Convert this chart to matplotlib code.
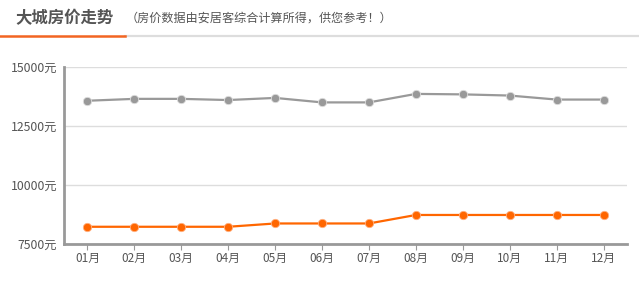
import matplotlib
matplotlib.use("Agg")
import matplotlib.pyplot as plt
from matplotlib.lines import Line2D

plt.rcParams['font.family'] = ['Noto Sans CJK SC', 'DejaVu Sans']

months = ["01月", "02月", "03月", "04月", "05月", "06月", "07月", "08月", "09月", "10月", "11月", "12月"]
gray_series = [13570, 13650, 13650, 13600, 13690, 13500, 13500, 13860, 13840, 13790, 13620, 13620]
orange_series = [8230, 8230, 8230, 8230, 8370, 8370, 8370, 8730, 8730, 8730, 8730, 8730]
yticks = [7500, 10000, 12500, 15000]
ytick_labels = ["7500元", "10000元", "12500元", "15000元"]
title = "大城房价走势"
subtitle = "（房价数据由安居客综合计算所得，供您参考！）"

W, H = 639, 281
fig = plt.figure(figsize=(W / 100, H / 100), dpi=100)
fig.patch.set_facecolor("white")

# Header
fig.text(15 / W, 1 - 18 / H, title, fontsize=11.8, color="#555555", fontweight="bold",
         ha="left", va="center")
fig.text(126 / W, 1 - 18.5 / H, subtitle, fontsize=8.7, color="#555555", ha="left", va="center")
fig.add_artist(Line2D([125 / W, 1], [1 - 35.5 / H, 1 - 35.5 / H], color="#dddddd", lw=1.6,
                      transform=fig.transFigure))
fig.add_artist(Line2D([0, 125 / W], [1 - 35.5 / H, 1 - 35.5 / H], color="#f26522", lw=1.8,
                      transform=fig.transFigure))

ax = fig.add_axes([64 / W, 1 - 244 / H, (627 - 64) / W, (244 - 67) / H])
x = list(range(len(months)))
ax.plot(x, gray_series, color="#999999", lw=1.6, marker="o", markersize=6,
        markerfacecolor="#999999", markeredgecolor="#dddddd", markeredgewidth=0.6, zorder=3)
ax.plot(x, orange_series, color="#ff6600", lw=1.6, marker="o", markersize=6,
        markerfacecolor="#ff6600", markeredgecolor="#ffb080", markeredgewidth=0.6, zorder=3)

ax.set_xlim(-0.5, len(months) - 0.5)
ax.set_ylim(7500, 15000)
ax.set_yticks(yticks)
ax.set_yticklabels(ytick_labels)
ax.set_xticks(x)
ax.set_xticklabels(months)
ax.grid(axis="y", color="#dddddd", lw=1)
ax.set_axisbelow(True)
for s in ["top", "right"]:
    ax.spines[s].set_visible(False)
for s in ["left", "bottom"]:
    ax.spines[s].set_color("#999999")
    ax.spines[s].set_linewidth(2)
ax.tick_params(axis="y", length=0, pad=5, labelsize=8.8, labelcolor="#555555")
ax.tick_params(axis="x", length=4, width=0.8, color="#999999", pad=2, labelsize=8.5,
               labelcolor="#555555")

fig.savefig("out.png", dpi=100, facecolor="white")
